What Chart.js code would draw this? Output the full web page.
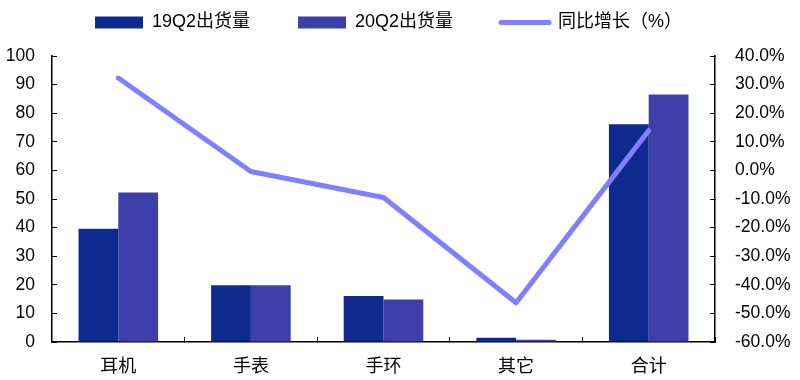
<!DOCTYPE html>
<html><head><meta charset="utf-8">
<script src="https://cdn.jsdelivr.net/npm/chart.js@4.4.0/dist/chart.umd.min.js"></script>
<style>html,body{margin:0;padding:0;background:#fff}#wrap{width:800px;height:380px}</style>
</head><body><div id="wrap"><canvas id="c" width="800" height="380"></canvas></div>
<script>
const categories = ['耳机', '手表', '手环', '其它', '合计'];
const ship19Q2 = [39.6, 19.8, 16.1, 1.5, 76.1];
const ship20Q2 = [52.3, 19.8, 14.9, 0.8, 86.5];
const yoyGrowth = [32.3, -0.4, -9.5, -46.3, 13.9];
const seriesNames = ['19Q2出货量', '20Q2出货量', '同比增长（%）'];
const leftTicks = [0, 100, 10];
const rightTicks = [-60, 40, 10];

const FONT = "'Liberation Sans', Arial, 'Noto Sans CJK SC', sans-serif";
const C19 = '#0E2A8E', C20 = '#3F3FAC', CL = '#7F7FFF';

const legendShift = {
  id: 'legendShift',
  afterLayout(chart) { chart.legend.left = 47; chart.legend.top = -34.5; }
};

new Chart(document.getElementById('c'), {
  data: {
    labels: categories,
    datasets: [
      { type: 'bar', label: seriesNames[0], data: ship19Q2, backgroundColor: C19, yAxisID: 'y', order: 1,
        categoryPercentage: 0.6, barPercentage: 1.0 },
      { type: 'bar', label: seriesNames[1], data: ship20Q2, backgroundColor: C20, yAxisID: 'y', order: 1,
        categoryPercentage: 0.6, barPercentage: 1.0 },
      { type: 'line', label: seriesNames[2], data: yoyGrowth, borderColor: CL, backgroundColor: CL, borderWidth: 5,
        pointRadius: 0, yAxisID: 'y2', order: 0, tension: 0, borderJoinStyle: 'round', borderCapStyle: 'round' }
    ]
  },
  options: {
    responsive: false, animation: false,
    layout: { padding: 0 },
    plugins: {
      tooltip: { enabled: false },
      legend: {
        position: 'top', align: 'start', maxHeight: 56,
        labels: {
          usePointStyle: true, pointStyleWidth: 48, boxHeight: 12, padding: 48, color: '#000',
          font: { family: FONT, size: 18 },
          generateLabels(chart) {
            return chart.data.datasets.map((ds, i) => ({
              text: ds.label, datasetIndex: i,
              fillStyle: ds.type === 'line' ? 'rgba(0,0,0,0)' : ds.backgroundColor,
              strokeStyle: ds.type === 'line' ? ds.borderColor : ds.backgroundColor,
              lineWidth: ds.type === 'line' ? 5 : 0,
              lineCap: 'round',
              pointStyle: ds.type === 'line' ? 'line' : 'rect',
              fontColor: '#000', hidden: false
            }));
          }
        }
      }
    },
    scales: {
      x: {
        offset: true,
        grid: { offset: true, drawOnChartArea: false, drawTicks: true, tickLength: -5, color: '#000', lineWidth: 1 },
        border: { display: true, color: '#000', width: 1.5 },
        ticks: { color: '#000', font: { family: FONT, size: 18 }, padding: 19, maxRotation: 0 },
        afterFit(s) { s.height = 38; }
      },
      y: {
        position: 'left', min: leftTicks[0], max: leftTicks[1],
        ticks: { stepSize: leftTicks[2], color: '#000', font: { family: FONT, size: 17.5 }, padding: 22 },
        grid: { drawOnChartArea: false, drawTicks: true, tickLength: -5, color: '#000' },
        border: { display: true, color: '#000', width: 1.5 },
        afterFit(s) { s.width = 52; }
      },
      y2: {
        position: 'right', min: rightTicks[0], max: rightTicks[1],
        ticks: { stepSize: rightTicks[2], color: '#000', font: { family: FONT, size: 17.5 }, padding: 25,
          callback: v => v.toFixed(1) + '%' },
        grid: { drawOnChartArea: false, drawTicks: true, tickLength: -5, color: '#000' },
        border: { display: true, color: '#000', width: 1.5 },
        afterFit(s) { s.width = 85; }
      }
    }
  },
  plugins: [legendShift]
});
</script></body></html>
